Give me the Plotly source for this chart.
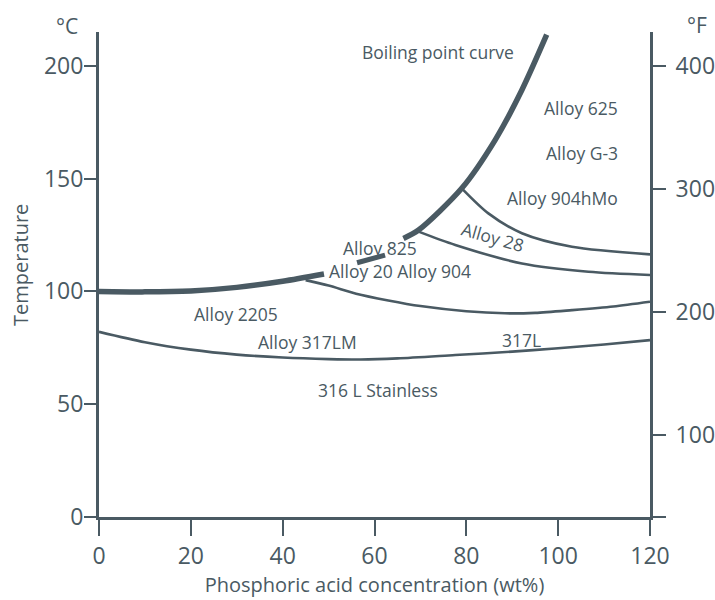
import plotly.graph_objects as go

# ---- data ----
# boiling point curve, visible pieces between the labels
boil1_x = [0, 10, 20, 30, 40, 49]
boil1_y = [100, 99.8, 100.2, 101.8, 104.5, 107.7]
boil2_x = [56.2, 62.3]
boil2_y = [112.7, 116.1]
boil3_x = [66.3, 69.6, 79, 86.3, 92.1, 97.5]
boil3_y = [123.5, 127.2, 145.7, 167.2, 189.3, 213.8]

hmo_x = [79, 84.8, 92.1, 103, 120]
hmo_y = [145.7, 134.6, 125.8, 119.8, 116.4]

a28_x = [69.6, 77.6, 92.1, 106.6, 120]
a28_y = [126.5, 120.6, 112.4, 108.7, 107.3]

a904_x = [45, 50, 56, 63, 70, 80, 88.4, 95, 103, 112, 120]
a904_y = [105, 102.6, 99, 96, 93.5, 91.2, 90.3, 90.5, 91.7, 93.3, 95.4]

a317_x = [0, 10, 20, 30, 40, 50, 57, 65, 77.6, 90, 99.3, 110, 120]
a317_y = [82.1, 77.5, 74.2, 72, 70.7, 70, 69.8, 70.3, 71.8, 73.3, 74.7, 76.5, 78.4]

labels = ["Boiling point curve", "Alloy 625", "Alloy G-3", "Alloy 904hMo", "Alloy 28",
          "Alloy 825", "Alloy 20 Alloy 904", "Alloy 2205", "Alloy 317LM", "317L",
          "316 L Stainless"]
label_x = [73.8, 113.5, 113.5, 113.5, 85.9, 61.2, 65.5, 29.9, 45.5, 92.1, 60.7]
label_y = [206.2, 181.2, 161.5, 141.3, 124.3, 119.1, 109.2, 89.8, 77.5, 78.4, 56.2]
label_anchor = ["center", "right", "right", "right", "center", "center", "center",
                "center", "center", "center", "center"]
label_angle = [0, 0, 0, 0, 16, 0, 0, 0, 0, 0, 0]

x_ticks = [0, 20, 40, 60, 80, 100, 120]
c_ticks = [0, 50, 100, 150, 200]
f_ticks = [33.6, 100, 200, 300, 400]
f_ticktext = ["", "100", "200", "300", "400"]

C_RANGE = [0, 215]
F_RANGE = [33.6, 427.6]

COL = "#4a5a63"
FONT = "Open Sans"

W, H = 715, 600
L, R, T, B = 99, 65, 32, 83
pw, ph = W - L - R, H - T - B

fig = go.Figure()

def add_line(x, y, w):
    fig.add_trace(go.Scatter(x=x, y=y, mode="lines",
                             line=dict(color=COL, width=w, shape="spline", smoothing=0.8),
                             showlegend=False, hoverinfo="skip"))

add_line(a317_x, a317_y, 2.6)
add_line(a904_x, a904_y, 2.6)
add_line(a28_x, a28_y, 2.6)
add_line(hmo_x, hmo_y, 2.6)
add_line(boil1_x, boil1_y, 5.5)
add_line(boil2_x, boil2_y, 5.0)
add_line(boil3_x, boil3_y, 5.5)

# invisible trace to activate the right axis
fig.add_trace(go.Scatter(x=[None], y=[None], yaxis="y2", showlegend=False))

for t, x, y, a, ang in zip(labels, label_x, label_y, label_anchor, label_angle):
    fig.add_annotation(x=x, y=y, text=t, showarrow=False, xanchor=a, yanchor="middle",
                       textangle=ang,
                       font=dict(family=FONT, size=17.5, color=COL))

for txt, (px, py), size, ang in [("°C", (67, 26), 21, 0), ("°F", (697, 25), 21, 0),
                                 ("Temperature", (20, 265), 20, -90)]:
    fig.add_annotation(x=(px - L) / pw, y=(H - B - py) / ph, xref="paper", yref="paper",
                       text=txt, showarrow=False, xanchor="center", yanchor="middle",
                       textangle=ang,
                       font=dict(family=FONT, size=size, color=COL))

fig.update_layout(
    width=W, height=H,
    margin=dict(l=L, r=R, t=T, b=B, autoexpand=False),
    paper_bgcolor="white", plot_bgcolor="white",
    font=dict(family=FONT, color=COL),
    xaxis=dict(range=[0, 120], tickvals=x_ticks, showgrid=False, zeroline=False,
               automargin=False,
               showline=True, linecolor=COL, linewidth=3, ticks="outside",
               ticklen=16, tickwidth=1.5, tickcolor=COL,
               tickfont=dict(size=23, color=COL),
               title=dict(text="Phosphoric acid concentration (wt%)",
                          font=dict(size=20, color=COL), standoff=4)),
    yaxis=dict(range=C_RANGE, tickvals=c_ticks, showgrid=False, zeroline=False,
               automargin=False, ticklabelstandoff=-4,
               showline=True, linecolor=COL, linewidth=3, ticks="outside",
               ticklen=12, tickwidth=1.5, tickcolor=COL,
               tickfont=dict(size=23, color=COL)),
    yaxis2=dict(range=F_RANGE, overlaying="y", side="right", tickvals=f_ticks,
                ticktext=f_ticktext, showgrid=False, zeroline=False,
                automargin=False, ticklabelstandoff=5,
                showline=True, linecolor=COL, linewidth=3, ticks="outside",
                ticklen=13, tickwidth=1.5, tickcolor=COL,
                tickfont=dict(size=23, color=COL)),
)

fig.write_html("out.html", config={"displayModeBar": False},
               post_script="document.body.style.margin='0';")
